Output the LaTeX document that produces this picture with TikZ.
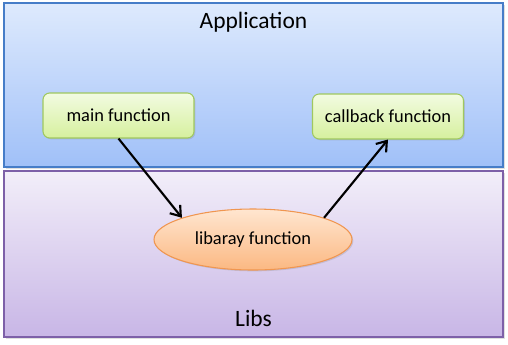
\documentclass[tikz,border=0pt]{standalone}
\usepackage{fontspec}
\setmainfont{Carlito}
\usetikzlibrary{arrows.meta,shapes.geometric,shadows}
\definecolor{apptop}{RGB}{222,234,253}
\definecolor{appbot}{RGB}{160,192,248}
\definecolor{appline}{RGB}{70,125,200}
\definecolor{libtop}{RGB}{242,238,249}
\definecolor{libbot}{RGB}{200,182,230}
\definecolor{libline}{RGB}{125,96,168}
\definecolor{grtop}{RGB}{242,251,225}
\definecolor{grbot}{RGB}{214,240,158}
\definecolor{grline}{RGB}{160,200,95}
\definecolor{ortop}{RGB}{255,230,208}
\definecolor{orbot}{RGB}{251,184,130}
\definecolor{orline}{RGB}{240,150,80}
\tikzset{
  layer/.style={draw=#1, line width=0.9pt, drop shadow={shadow xshift=1.5pt, shadow yshift=-1.5pt, opacity=0.25}},
  fbox/.style={draw=grline, line width=0.8pt, rounded corners=5pt, top color=grtop, bottom color=grbot,
    minimum width=151*0.75pt, minimum height=45*0.75pt, inner sep=0pt, font=\fontsize{13.8}{16}\selectfont,
    drop shadow={shadow xshift=1pt, shadow yshift=-1pt, opacity=0.25}},
  lfun/.style={ellipse, draw=orline, line width=0.8pt, top color=ortop, bottom color=orbot,
    minimum width=198*0.75pt, minimum height=61*0.75pt, inner sep=0pt, font=\fontsize{13.8}{16}\selectfont,
    drop shadow={shadow xshift=1pt, shadow yshift=-1pt, opacity=0.25}},
  ttl/.style={font=\fontsize{17.6}{20}\selectfont},
  conn/.style={-{Straight Barb[length=7pt,width=10pt,line width=1.6pt]}, line width=1.6pt, black}
}
\begin{document}
\begin{tikzpicture}[x=0.75pt,y=-0.75pt]
\useasboundingbox (0,0) rectangle (508,344);
\fill[white] (0,0) rectangle (508,344);
\path[layer=appline, top color=apptop, bottom color=appbot] (4,3) rectangle (503,167);
\path[layer=libline, top color=libtop, bottom color=libbot] (4,171) rectangle (503,337);
\node[ttl] (app) at (253.5,22) {Application};
\node[ttl] (libs) at (253.5,318) {Libs};
\node[fbox] (main) at (118.5,115.5) {main function};
\node[fbox] (cb) at (388,116.5) {callback function};
\node[lfun] (lib) at (253,239.5) {libaray function};
\draw[conn] (main.south) -- (lib.163);
\draw[conn] (lib.17) -- (cb.south);
\end{tikzpicture}
\end{document}
